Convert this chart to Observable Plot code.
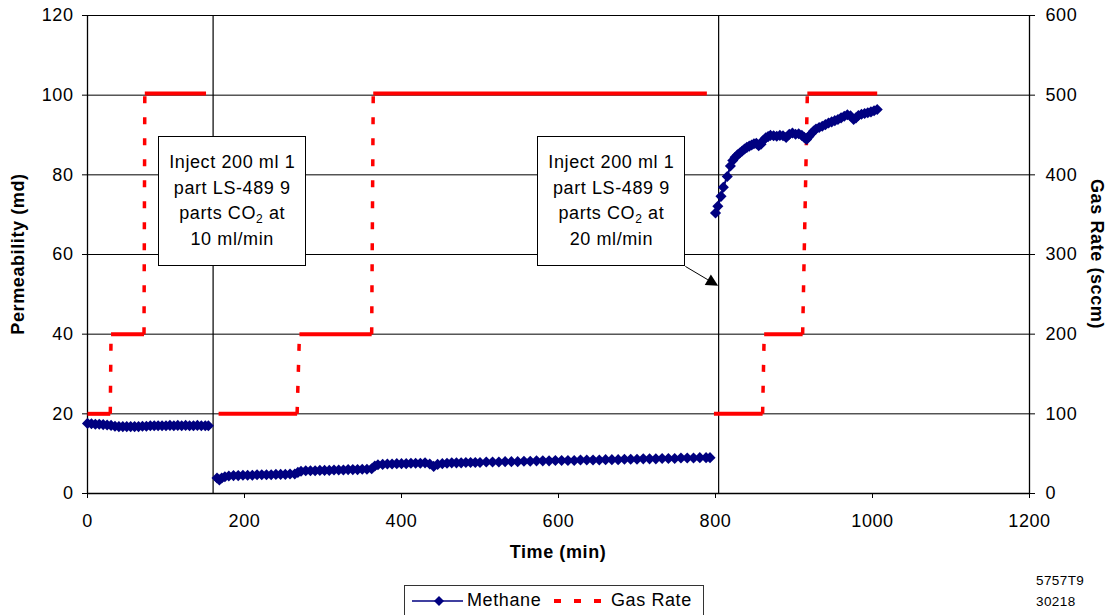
<!DOCTYPE html>
<html><head><meta charset="utf-8">
<script src="https://cdn.jsdelivr.net/npm/d3@7"></script>
<script src="https://cdn.jsdelivr.net/npm/@observablehq/plot@0.6"></script>
<style>
body{margin:0;background:#fff;font-family:"Liberation Sans",Arial,sans-serif;}
#wrap{position:relative;width:1108px;height:615px;overflow:hidden;background:#fff;}
#wrap svg text{letter-spacing:0.6px;}
.callout{position:absolute;box-sizing:border-box;width:148px;height:130px;border:1.5px solid #000;background:#fff;text-align:center;font-size:18px;line-height:25.5px;padding-top:13px;letter-spacing:0.6px;color:#000;}
.callout sub{font-size:12px;vertical-align:-4px;line-height:0;}
#legend{position:absolute;left:404px;top:585px;width:300px;height:34px;box-sizing:border-box;border:1px solid #333;background:#fff;}
.code{position:absolute;left:1036px;font-size:13.5px;letter-spacing:0.4px;color:#000;}
</style>
</head><body>
<div id="wrap"></div>
<script>
// ---- data ----
const xTicks = [0, 200, 400, 600, 800, 1000, 1200];
const yTicks = [0, 20, 40, 60, 80, 100, 120];       // permeability (md)
const rateFactor = 5;                                 // right axis: gas rate = 5 x left axis
const injectTimes = [160, 804];

const run1T = [0,5,10,15,20,25,30,35,40,45,50,55,60,65,70,75,80,85,90,95,100,105,110,115,120,125,130,135,140,145,150,154];
const run1V = [17.6,17.5,17.4,17.4,17.3,17.2,17.1,16.9,16.8,16.8,16.8,16.8,16.8,16.8,16.9,16.9,17.0,17.0,17.0,17.0,17.0,17.1,17.0,17.1,17.0,17.1,17.0,17.0,17.1,17.0,17.0,17.0];

const run2T = [165,168,171,175,180,186,192,198,204,210,216,222,228,234,240,246,252,258,264,268,272,278,284,290,296,302,308,314,320,326,332,338,344,350,356,362,366,370,376,382,388,394,400,406,412,418,424,430,436,441,446,452,458,464,470,476,482,488,494,500,508,516,524,532,540,548,556,564,572,580,588,596,604,612,620,628,636,644,652,660,668,676,684,692,700,708,716,724,732,740,748,756,764,772,780,788,793];
const run2V = [3.9,3.4,3.9,4.2,4.4,4.5,4.5,4.6,4.6,4.6,4.7,4.7,4.7,4.7,4.8,4.8,4.8,4.9,4.9,5.3,5.6,5.7,5.7,5.7,5.8,5.8,5.8,5.9,5.9,5.9,6.0,6.0,6.0,6.1,6.1,6.2,6.9,7.2,7.3,7.4,7.4,7.5,7.5,7.5,7.6,7.6,7.6,7.7,7.4,6.8,7.3,7.5,7.6,7.7,7.7,7.7,7.8,7.8,7.8,7.8,7.9,7.9,7.9,8.0,8.0,8.0,8.1,8.1,8.2,8.2,8.2,8.3,8.3,8.3,8.3,8.4,8.4,8.4,8.4,8.5,8.5,8.5,8.6,8.6,8.6,8.7,8.7,8.7,8.8,8.8,8.8,8.9,8.9,8.9,9.0,9.0,9.0];

const run3T = [800,803,807,810,815,819,822,825,828,831,834,837,840,843,846,849,852,855,858,861,864,867,870,874,878,882,886,890,894,898,902,906,910,913,916,919,922,925,928,932,936,940,944,948,952,956,960,964,968,972,976,979,982,986,990,994,998,1002,1006];
const run3V = [70.4,72.1,74.6,76.9,79.6,82.2,83.6,84.4,85.0,85.5,86.0,86.5,86.9,87.2,87.5,87.8,87.9,87.3,87.7,88.7,89.3,89.6,89.9,89.8,89.7,89.9,89.8,89.4,90.2,90.5,90.2,90.3,89.9,89.4,88.9,89.6,90.3,91.0,91.5,91.9,92.2,92.6,93.0,93.3,93.6,93.9,94.3,94.7,95.1,94.8,93.9,94.3,94.9,95.2,95.4,95.6,95.8,96.1,96.4];

// gas rate steps (sccm)
const gasStart = [0, 30, 73, 167, 270, 364, 798, 862, 917];
const gasEnd   = [29, 72, 151, 267, 362, 789, 860, 911, 1006];
const gasRate  = [100, 200, 502, 100, 200, 502, 100, 200, 502];
const gasRun   = [1, 1, 1, 2, 2, 2, 3, 3, 3];

// callouts: centre in data coordinates
const calloutT = [185, 668];
const calloutV = [73.2, 73.2];
const calloutRate = ["10", "20"];
const arrowTarget = {t: 804, v: 52};

// ---- build tables ----
function zipRun(T, V, run) { return T.slice(0, Math.min(T.length, V.length)).map((t, i) => ({t, v: V[i], run})); }
const methane = [...zipRun(run1T, run1V, 1), ...zipRun(run2T, run2V, 2), ...zipRun(run3T, run3V, 3)];
const gasFlat = gasStart.map((s, i) => ({x1: s, x2: gasEnd[i], y: gasRate[i] / rateFactor}));
const gasRise = [];
for (let i = 0; i < gasStart.length - 1; i++) {
  if (gasRun[i] === gasRun[i + 1]) gasRise.push({x1: gasEnd[i], y1: gasRate[i] / rateFactor, x2: gasStart[i + 1], y2: gasRate[i + 1] / rateFactor});
}

const W = 1108, H = 575, ML = 87, MR = 79, MT = 15, MB = 82;
const plot = Plot.plot({
  width: W, height: H, marginLeft: ML, marginRight: MR, marginTop: MT, marginBottom: MB,
  style: {fontFamily: '"Liberation Sans", Arial, sans-serif', fontSize: "18px", color: "#000", background: "#fff", overflow: "visible"},
  x: {domain: [0, 1200]},
  y: {domain: [0, 120]},
  marks: [
    Plot.gridY(yTicks, {stroke: "#000", strokeOpacity: 1, strokeWidth: 1}),
    Plot.ruleX([xTicks[0], xTicks[xTicks.length - 1]], {stroke: "#000", strokeWidth: 1.3}),
    Plot.ruleY([0], {stroke: "#000", strokeWidth: 1.3}),
    Plot.ruleX(injectTimes, {stroke: "#000", strokeWidth: 1.2}),
    Plot.axisX(xTicks, {tickSize: 5, tickPadding: 16, label: null, tickFormat: d => String(d)}),
    Plot.axisY(yTicks, {anchor: "left", tickSize: 5, tickPadding: 9, label: null, tickFormat: d => String(d)}),
    Plot.axisY(yTicks, {anchor: "right", tickSize: 5, tickPadding: 11, label: null, tickFormat: d => String(d * rateFactor)}),
    Plot.link(gasRise, {x1: "x1", y1: "y1", x2: "x2", y2: "y2", stroke: "#ff0000", strokeWidth: 3.5, strokeDasharray: "7,14"}),
    Plot.link(gasFlat, {x1: "x1", x2: "x2", y1: "y", y2: "y", stroke: "#ff0000", strokeWidth: 4}),
    Plot.line(methane, {x: "t", y: "v", z: "run", stroke: "#000080", strokeWidth: 2}),
    Plot.dot(methane, {x: "t", y: "v", symbol: "diamond2", r: 5, fill: "#000080", stroke: "none"})
  ]
});
const wrap = document.getElementById("wrap");
wrap.appendChild(plot);
const xs = plot.scale("x"), ys = plot.scale("y");
const svg = d3.select(plot);

// axis titles
svg.append("text").attr("transform", `translate(19,${(MT + H - MB) / 2}) rotate(-90)`)
  .attr("text-anchor", "middle").attr("dominant-baseline", "middle")
  .attr("font-weight", "bold").attr("font-size", 18).text("Permeability (md)");
svg.append("text").attr("transform", `translate(1096,${(MT + H - MB) / 2}) rotate(90)`)
  .attr("text-anchor", "middle").attr("dominant-baseline", "middle")
  .attr("font-weight", "bold").attr("font-size", 18).text("Gas Rate (sccm)");
svg.append("text").attr("x", (ML + W - MR) / 2).attr("y", 553)
  .attr("text-anchor", "middle").attr("dominant-baseline", "middle")
  .attr("font-weight", "bold").attr("font-size", 18).text("Time (min)");

// callouts
const boxes = calloutT.map((t, i) => {
  const cx = xs.apply(t), cy = ys.apply(calloutV[i]);
  const d = document.createElement("div");
  d.className = "callout";
  d.style.left = (cx - 74) + "px";
  d.style.top = (cy - 65) + "px";
  d.innerHTML = `Inject 200 ml 1<br>part LS-489 9<br>parts CO<sub>2</sub> at<br>${calloutRate[i]} ml/min`;
  wrap.appendChild(d);
  return {cx, cy};
});
// arrow from second callout corner
{
  const x0 = boxes[1].cx + 74, y0 = boxes[1].cy + 65;
  const x1 = xs.apply(arrowTarget.t), y1 = ys.apply(arrowTarget.v);
  const dx = x1 - x0, dy = y1 - y0, L = Math.hypot(dx, dy), ux = dx / L, uy = dy / L;
  const hl = 12, hw = 6;
  const bx = x1 - ux * hl, by = y1 - uy * hl;
  svg.append("line").attr("x1", x0).attr("y1", y0).attr("x2", bx).attr("y2", by).attr("stroke", "#000").attr("stroke-width", 1);
  svg.append("path").attr("d", `M${x1},${y1}L${bx - uy * hw},${by + ux * hw}L${bx + uy * hw},${by - ux * hw}Z`).attr("fill", "#000");
}

// legend
const lg = document.createElement("div");
lg.id = "legend";
lg.innerHTML = `<svg width="298" height="32" style="position:absolute;left:0;top:0">
<line x1="7" y1="15" x2="58" y2="15" stroke="#000080" stroke-width="1.5"/>
<path d="M34,10L39,15L34,20L29,15Z" fill="#000080"/>
<text x="62" y="15" dominant-baseline="middle" font-size="18" style="letter-spacing:0.6px" font-family="Liberation Sans, Arial">Methane</text>
<line x1="149" y1="15" x2="197" y2="15" stroke="#ff0000" stroke-width="4" stroke-dasharray="7,13"/>
<text x="206" y="15" dominant-baseline="middle" font-size="18" style="letter-spacing:0.6px" font-family="Liberation Sans, Arial">Gas Rate</text>
</svg>`;
wrap.appendChild(lg);

const c1 = document.createElement("div"); c1.className = "code"; c1.style.top = "573px"; c1.textContent = "5757T9"; wrap.appendChild(c1);
const c2 = document.createElement("div"); c2.className = "code"; c2.style.top = "594px"; c2.textContent = "30218"; wrap.appendChild(c2);
</script>
</body></html>
